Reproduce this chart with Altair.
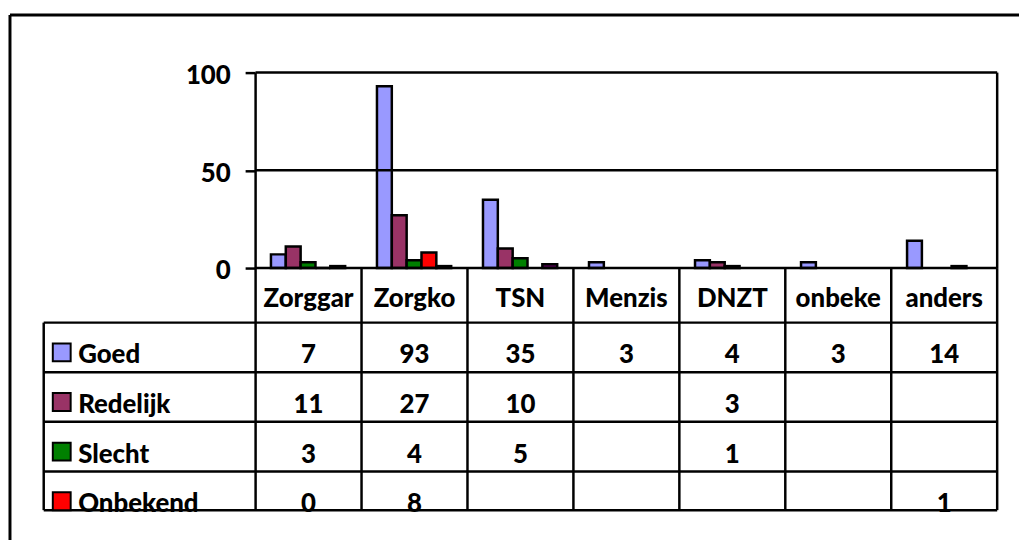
import altair as alt
import pandas as pd

# ---------------- data ----------------
categories = ["Zorggar", "Zorgko", "TSN", "Menzis", "DNZT", "onbeke", "anders"]
series_names = ["Goed", "Redelijk", "Slecht", "Onbekend", "Reeks 5"]
goed = [7, 93, 35, 3, 4, 3, 14]
redelijk = [11, 27, 10, None, 3, None, None]
slecht = [3, 4, 5, None, 1, None, None]
onbekend = [0, 8, None, None, None, None, 1]
reeks5 = [1, 1, 2, None, None, None, None]
series_colors = ["#9999FF", "#993366", "#008000", "#FF0000", "#660066"]
table_series = ["Goed", "Redelijk", "Slecht", "Onbekend"]
y_ticks = [0, 50, 100]

series_values = [goed, redelijk, slecht, onbekend, reeks5]

# ---------------- layout (pixels inside the frame) ----------------
W, H = 1017, 529
TX_RANGE = [34, 995]          # table columns: label block (2 units) + 7 category columns
BAND_RANGE = [247, 995]       # category bands of the bar chart
BAR_Y_RANGE = [255, 58]
TAB_Y_RANGE = [255, 499]
LABEL_COLS = 2
HEADER_H = 1.1
TAB_BOTTOM = 4.88
HEADER_BASE = 0.78
ROW_BASE = 0.82
SWATCH_Y = 0.6
SWATCH_X = -1.83
LABEL_X = -1.675
FONT = "Lato"
FS = 26
FW = 900
LW = 2.5

tx = alt.Scale(domain=[-LABEL_COLS, len(categories)], range=TX_RANGE, nice=False, zero=False)
ty = alt.Scale(domain=[0, TAB_BOTTOM], range=TAB_Y_RANGE, nice=False, zero=False)
by = alt.Scale(domain=[y_ticks[0], y_ticks[-1]], range=BAR_Y_RANGE, nice=False, zero=False)

# ---------------- tables ----------------
bar_rows = []
for s, vals in zip(series_names, series_values):
    for c, v in zip(categories, vals):
        if v is not None:
            bar_rows.append({"cat": c, "series": s, "value": v})
bars_df = pd.DataFrame(bar_rows)

cells = []
for i, c in enumerate(categories):
    cells.append({"x": i + 0.5, "y": HEADER_BASE, "text": c})
labels, swatches = [], []
for r, s in enumerate(table_series):
    top = HEADER_H + r
    for i, v in enumerate(series_values[series_names.index(s)]):
        if v is not None:
            cells.append({"x": i + 0.5, "y": top + ROW_BASE, "text": str(v)})
    labels.append({"x": LABEL_X, "y": top + ROW_BASE, "text": s})
    swatches.append({"x": SWATCH_X, "y": top + SWATCH_Y, "series": s})
cells_df = pd.DataFrame(cells)
labels_df = pd.DataFrame(labels)
swatch_df = pd.DataFrame(swatches)

n = len(categories)
tlines = []
for b in [HEADER_H + r for r in range(len(table_series))] + [TAB_BOTTOM]:
    tlines.append({"x": -LABEL_COLS, "x2": n, "y": b, "y2": b})
tlines.append({"x": -LABEL_COLS, "x2": -LABEL_COLS, "y": HEADER_H, "y2": TAB_BOTTOM})
for i in range(n + 1):
    tlines.append({"x": i, "x2": i, "y": 0, "y2": TAB_BOTTOM})
tlines_df = pd.DataFrame(tlines)

plines = []
for t in y_ticks:
    plines.append({"x": 0, "x2": n, "y": t, "y2": t})
plines.append({"x": 0, "x2": 0, "y": y_ticks[0], "y2": y_ticks[-1]})
plines.append({"x": n, "x2": n, "y": y_ticks[0], "y2": y_ticks[-1]})
plines_df = pd.DataFrame(plines)

frame_df = pd.DataFrame([
    {"x": 0, "x2": 1, "y": 0, "y2": 0},
    {"x": 0, "x2": 0, "y": 0, "y2": 1},
])

# ---------------- layers ----------------
bars = alt.Chart(bars_df).mark_bar(stroke="black", strokeWidth=LW).encode(
    x=alt.X("cat:N", sort=categories, axis=None,
            scale=alt.Scale(domain=categories, range=BAND_RANGE, paddingInner=0.3, paddingOuter=0.15)),
    xOffset=alt.XOffset("series:N", sort=series_names,
                        scale=alt.Scale(domain=series_names, paddingInner=0, paddingOuter=0)),
    y=alt.Y("value:Q", scale=by,
            axis=alt.Axis(values=y_ticks, offset=-BAND_RANGE[0], domain=False, grid=False,
                          ticks=True, tickSize=10, tickWidth=LW, tickColor="black",
                          labelFont=FONT, labelFontSize=FS, labelFontWeight=FW,
                          labelColor="black", labelPadding=15, labelOffset=3, title=None)),
    color=alt.Color("series:N", scale=alt.Scale(domain=series_names, range=series_colors), legend=None),
)

plot_lines = alt.Chart(plines_df).mark_rule(color="black", strokeWidth=LW).encode(
    x=alt.X("x:Q", scale=tx, axis=None), x2="x2:Q",
    y=alt.Y("y:Q", scale=by, axis=None), y2="y2:Q",
)

table_lines = alt.Chart(tlines_df).mark_rule(color="black", strokeWidth=LW).encode(
    x=alt.X("x:Q", scale=tx, axis=None), x2="x2:Q",
    y=alt.Y("y:Q", scale=ty, axis=None), y2="y2:Q",
)

cell_text = alt.Chart(cells_df).mark_text(
    font=FONT, fontSize=FS, fontWeight=FW, color="black", align="center", baseline="alphabetic"
).encode(
    x=alt.X("x:Q", scale=tx, axis=None),
    y=alt.Y("y:Q", scale=ty, axis=None),
    text="text:N",
)

label_text = alt.Chart(labels_df).mark_text(
    font=FONT, fontSize=FS, fontWeight=FW, color="black", align="left", baseline="alphabetic"
).encode(
    x=alt.X("x:Q", scale=tx, axis=None),
    y=alt.Y("y:Q", scale=ty, axis=None),
    text="text:N",
)

swatch = alt.Chart(swatch_df).mark_square(size=324, opacity=1, stroke="black", strokeWidth=2).encode(
    x=alt.X("x:Q", scale=tx, axis=None),
    y=alt.Y("y:Q", scale=ty, axis=None),
    color=alt.Color("series:N", scale=alt.Scale(domain=series_names, range=series_colors), legend=None),
)

frame = alt.Chart(frame_df).mark_rule(color="black", strokeWidth=3).encode(
    x=alt.X("x:Q", scale=alt.Scale(domain=[0, 1], range=[0, W], nice=False), axis=None), x2="x2:Q",
    y=alt.Y("y:Q", scale=alt.Scale(domain=[0, 1], range=[0, H], nice=False), axis=None), y2="y2:Q",
)

chart = alt.layer(
    bars, plot_lines, table_lines, cell_text, label_text, swatch, frame
).resolve_scale(
    x="independent", y="independent", color="shared"
).properties(
    width=W, height=H,
    padding={"left": 2, "top": 5, "right": 0, "bottom": 0},
    autosize=alt.AutoSizeParams(type="none"),
    background="white",
).configure_view(stroke="transparent")

chart.save("out.html", embed_options={"renderer": "svg", "actions": False})
